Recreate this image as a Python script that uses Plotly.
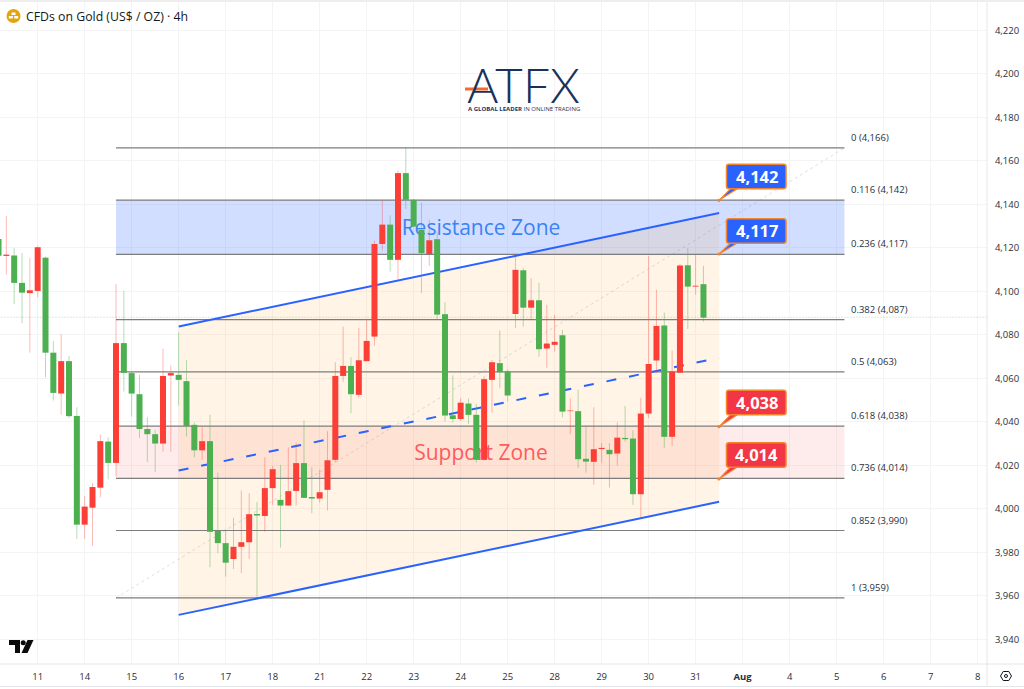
import plotly.graph_objects as go

# ---------- data ----------
opens = [4124.1,4116.3,4116.5,4103.9,4099.2,4100.2,4115.5,4071.8,4053.0,4067.9,4042.7,3992.7,4000.5,4009.7,4030.9,4021.1,
         4076.2,4062.4,4052.7,4036.7,4034.3,4030.0,4061.3,4061.6,4058.7,4038.6,4026.9,4031.1,3989.8,3984.2,3976.9,3982.5,
         3984.6,3997.6,3996.7,4009.5,4004.1,4001.5,4008.2,4021.0,4005.4,4004.7,4008.7,4022.5,4061.1,4065.7,4052.4,4067.9,
         4079.2,4121.8,4130.7,4114.5,4154.4,4142.1,4128.3,4117.2,4124.0,4089.5,4043.0,4041.3,4048.4,4043.2,4022.5,4059.3,
         4067.0,4063.3,4089.6,4109.7,4092.5,4095.9,4073.7,4075.4,4079.8,4044.9,4044.9,4023.0,4021.6,4027.5,4027.1,4025.4,
         4032.6,4032.3,4006.7,4043.8,4068.2,4084.3,4033.1,4062.6,4112.0,4102.2,4103.3]
highs = [4126.0,4134.7,4120.0,4117.6,4115.3,4120.9,4116.0,4077.2,4080.4,4070.3,4046.7,4005.9,4011.8,4034.0,4032.9,4103.4,
         4100.2,4063.0,4061.6,4042.1,4036.3,4073.7,4065.9,4081.2,4068.5,4039.8,4037.5,4043.2,4016.6,3990.6,3995.8,4008.4,
         4007.2,4003.2,4023.7,4019.7,4020.2,4028.3,4030.4,4040.6,4019.1,4017.9,4035.7,4067.4,4083.8,4069.7,4083.2,4086.9,
         4123.3,4141.8,4135.0,4155.6,4166.3,4142.5,4140.8,4132.9,4127.5,4095.0,4061.4,4050.9,4050.7,4048.2,4061.0,4068.5,
         4082.0,4064.2,4116.0,4110.7,4106.0,4104.0,4093.8,4089.2,4082.3,4050.9,4054.7,4037.8,4046.7,4030.2,4030.2,4039.8,
         4047.3,4036.0,4051.1,4116.3,4100.7,4090.2,4072.8,4112.6,4119.9,4117.1,4111.7]
lows = [4112.0,4107.7,4094.1,4085.4,4071.8,4097.3,4060.5,4049.8,4043.3,4041.7,3986.1,3986.1,3983.0,4005.3,4013.6,4014.8,
        4053.9,4042.4,4032.5,4021.4,4016.8,4026.3,4026.3,4047.5,4033.2,4023.7,4022.5,3973.1,3979.6,3968.8,3972.3,3970.4,
        3976.9,3959.6,3989.4,4001.8,3982.1,4001.3,4001.5,4005.0,3998.0,4002.8,3999.2,4021.4,4058.5,4044.0,4051.3,4067.9,
        4075.0,4118.8,4109.1,4105.6,4137.9,4129.5,4099.2,4111.7,4086.9,4040.1,4039.6,4040.4,4039.0,4021.2,4022.2,4044.2,
        4055.5,4049.3,4083.1,4083.8,4086.9,4070.0,4064.9,4072.3,4042.1,4034.3,4018.7,4016.6,4011.0,4021.2,4009.7,4019.9,
        4030.9,4001.8,3995.7,4041.7,4062.4,4027.9,4028.9,4062.4,4082.7,4098.4,4086.1]
closes = [4116.4,4116.9,4103.9,4099.4,4100.5,4120.3,4071.8,4053.3,4067.9,4042.6,3992.7,4001.0,4010.0,4031.1,4021.1,4076.2,
          4062.5,4053.0,4036.7,4034.3,4030.0,4061.1,4062.4,4059.3,4038.1,4026.9,4031.1,3989.4,3984.2,3975.2,3982.5,3984.6,
          3997.5,3996.9,4009.5,4018.2,4001.5,4008.1,4021.0,4005.0,4004.7,4007.6,4022.3,4061.1,4065.7,4052.7,4068.3,4077.2,
          4121.8,4130.7,4114.5,4154.4,4142.1,4129.8,4117.6,4123.5,4089.3,4042.9,4041.3,4048.8,4043.2,4022.5,4059.6,4067.4,
          4062.8,4052.1,4109.9,4092.5,4095.9,4073.4,4076.0,4076.8,4044.7,4045.2,4022.8,4021.7,4027.4,4028.0,4025.1,4032.7,
          4032.0,4006.7,4043.8,4066.6,4084.1,4033.1,4063.1,4111.9,4102.2,4102.6,4087.9]

fib_ratios = ["0", "0.116", "0.236", "0.382", "0.5", "0.618", "0.736", "0.852", "1"]
fib_levels = [4166, 4142, 4117, 4087, 4063, 4038, 4014, 3990, 3959]
fib_start, fib_end = 15, 108

channel_x = [23, 92]
channel_top = [4083.8, 4136.0]
channel_mid = [4017.6, 4069.4]
channel_bot = [3951.2, 4003.2]

last_price = 4088.1

y_ticks = list(range(3940, 4221, 20))
x_tick_pos = [5, 11, 17, 23, 29, 35, 41, 47, 53, 59, 65, 71, 77, 83, 89, 95, 101, 107, 113, 119, 125]
x_tick_txt = ["11", "14", "15", "16", "17", "18", "21", "22", "23", "24", "25", "28", "29", "30", "31",
              "<b>Aug</b>", "4", "5", "6", "7", "8"]

callout_blue = ["4,142", "4,117"]
callout_red = ["4,038", "4,014"]

# ---------- styles ----------
GREEN, RED = "#4CAF50", "#FB3E36"
GREEN_W, RED_W = "rgba(76,175,80,0.42)", "rgba(251,62,54,0.36)"
BLUE = "#2962FF"
GRAY = "#7d7d7d"
FONT = "Open Sans"
W, H = 1024, 689
PX = lambda x: x / W
PY = lambda y: 1 - y / H

fig = go.Figure()

def band(x0, x1, lo, hi, color):
    fig.add_trace(go.Scatter(x=[x0, x1, x1, x0, x0], y=[lo, lo, hi, hi, lo], mode="lines",
                             fill="toself", fillcolor=color, line=dict(width=0), hoverinfo="skip"))

# zones
band(fib_start, fib_end, fib_levels[2], fib_levels[1], "rgba(41,98,255,0.21)")
band(fib_start, fib_end, fib_levels[6], fib_levels[5], "rgba(242,54,69,0.10)")
# channel fill
fig.add_trace(go.Scatter(x=channel_x + channel_x[::-1] + channel_x[:1],
                         y=channel_top + channel_bot[::-1] + channel_top[:1],
                         mode="lines", fill="toself", fillcolor="rgba(255,152,0,0.10)",
                         line=dict(width=0), hoverinfo="skip"))
# price line
fig.add_trace(go.Scatter(x=[0, 127], y=[last_price, last_price], mode="lines",
                         line=dict(color="rgba(76,175,80,0.45)", width=1, dash="1px,2px")))
# fib diagonal
fig.add_trace(go.Scatter(x=[fib_start, fib_end], y=[fib_levels[-1], fib_levels[0]], mode="lines",
                         line=dict(color="rgba(120,120,120,0.24)", width=1, dash="3px,3px")))
# fib lines
for lv in fib_levels:
    fig.add_trace(go.Scatter(x=[fib_start, fib_end], y=[lv, lv], mode="lines",
                             line=dict(color=GRAY, width=1.2)))
# channel lines
fig.add_trace(go.Scatter(x=channel_x, y=channel_top, mode="lines", line=dict(color=BLUE, width=2)))
fig.add_trace(go.Scatter(x=channel_x, y=channel_bot, mode="lines", line=dict(color=BLUE, width=2)))
fig.add_trace(go.Scatter(x=channel_x, y=channel_mid, mode="lines",
                         line=dict(color=BLUE, width=2, dash="10px,13px")))
# zone names
fig.add_trace(go.Scatter(x=[61.6], y=[(fib_levels[1] + fib_levels[2]) / 2 - 1.3], mode="text",
                         text=["Resistance Zone"], textposition="middle center",
                         textfont=dict(family=FONT, size=21, color="#3B82F6")))
fig.add_trace(go.Scatter(x=[61.6], y=[(fib_levels[5] + fib_levels[6]) / 2 - 1.0], mode="text",
                         text=["Support Zone"], textposition="middle center",
                         textfont=dict(family=FONT, size=21, color="#FF5A5F")))

# candles: wicks then bodies, from the arrays
def segs(idx, a, b):
    xs, ys = [], []
    for i in idx:
        xs += [i, i, None]
        ys += [a[i], b[i], None]
    return xs, ys

up = [i for i in range(len(opens)) if closes[i] >= opens[i]]
dn = [i for i in range(len(opens)) if closes[i] < opens[i]]
for idx, col, wcol in ((dn, GREEN, GREEN_W), (up, RED, RED_W)):
    xs, ys = segs(idx, lows, highs)
    fig.add_trace(go.Scatter(x=xs, y=ys, mode="lines", line=dict(color=wcol, width=1)))
for idx, col, wcol in ((dn, GREEN, GREEN_W), (up, RED, RED_W)):
    xs, ys = segs(idx, opens, closes)
    fig.add_trace(go.Scatter(x=xs, y=ys, mode="lines", line=dict(color=col, width=6)))

shapes, annos = [], []

# fib labels
for r, lv in zip(fib_ratios, fib_levels):
    annos.append(dict(x=fib_end, y=lv, xref="x", yref="y", text=f"{r} ({lv:,})", showarrow=False,
                      xanchor="left", yanchor="middle", xshift=5, yshift=10.5,
                      font=dict(family=FONT, size=9.5, color="#2a2e39")))

# callouts
def rrect(x0, y0, x1, y1, r, fill, line):
    p = (f"M{PX(x0+r)},{PY(y0)} L{PX(x1-r)},{PY(y0)} Q{PX(x1)},{PY(y0)} {PX(x1)},{PY(y0+r)} "
         f"L{PX(x1)},{PY(y1-r)} Q{PX(x1)},{PY(y1)} {PX(x1-r)},{PY(y1)} L{PX(x0+r)},{PY(y1)} "
         f"Q{PX(x0)},{PY(y1)} {PX(x0)},{PY(y1-r)} L{PX(x0)},{PY(y0+r)} Q{PX(x0)},{PY(y0)} {PX(x0+r)},{PY(y0)} Z")
    shapes.append(dict(type="path", xref="paper", yref="paper", path=p, fillcolor=fill,
                       line=dict(color=line, width=1.5)))

def callout(txt, top, anchor_y, fill):
    ORANGE = "#F5842B"
    shapes.append(dict(type="path", xref="paper", yref="paper",
                       path=f"M{PX(731)},{PY(top+24)} L{PX(719)},{PY(anchor_y)} L{PX(738)},{PY(top+24)} Z",
                       fillcolor=fill, line=dict(color=ORANGE, width=1.2)))
    rrect(726.5, top, 786, top + 24.5, 2.5, fill, ORANGE)
    shapes.append(dict(type="circle", xref="paper", yref="paper",
                       x0=PX(717.4), x1=PX(720.6), y0=PY(anchor_y + 1.6), y1=PY(anchor_y - 1.6),
                       fillcolor=ORANGE, line=dict(width=0)))
    annos.append(dict(x=PX(756.5), y=PY(top + 12.2), xref="paper", yref="paper", text=f"<b>{txt}</b>",
                      showarrow=False, xanchor="center", yanchor="middle",
                      font=dict(family=FONT, size=16.5, color="white")))

callout(callout_blue[0], 164.3, 200.3, BLUE)
callout(callout_blue[1], 218.7, 254, BLUE)
callout(callout_red[0], 390.3, 426.7, "#F23645")
callout(callout_red[1], 442.7, 479, "#F23645")

# title + icon
shapes.append(dict(type="circle", xref="paper", yref="paper", x0=PX(6.5), x1=PX(20.5), y0=PY(23), y1=PY(9),
                   fillcolor="#E2A50C", line=dict(width=0)))
for x0, x1, y0, y1 in ((11.5, 15.5, 12.5, 15), (8.8, 12.8, 16, 18.5), (14.2, 18.2, 16, 18.5)):
    shapes.append(dict(type="rect", xref="paper", yref="paper", x0=PX(x0), x1=PX(x1), y0=PY(y1), y1=PY(y0),
                       fillcolor="white", line=dict(width=0)))
annos.append(dict(x=PX(24), y=PY(16), xref="paper", yref="paper", text="CFDs on Gold (US$ / OZ) · 4h",
                  showarrow=False, xanchor="left", yanchor="middle",
                  font=dict(family=FONT, size=12.3, color="#131722")))

# ATFX logo
annos.append(dict(x=PX(523.5), y=PY(85), xref="paper", yref="paper", text="ATFX", showarrow=False,
                  xanchor="center", yanchor="middle", font=dict(family="Lato", weight=300, size=48, color="#17335C")))
annos.append(dict(x=PX(523.5), y=PY(109), xref="paper", yref="paper",
                  text="<b>A GLOBAL LEADER</b> IN ONLINE TRADING", showarrow=False,
                  xanchor="center", yanchor="middle", font=dict(family=FONT, size=6, color="#17335C")))
shapes.append(dict(type="rect", xref="paper", yref="paper", x0=PX(465), x1=PX(488), y0=PY(90.5), y1=PY(87.5),
                   fillcolor="#F26B32", line=dict(width=0)))

# TradingView mark
shapes.append(dict(type="path", xref="paper", yref="paper",
                   path=f"M{PX(9)},{PY(640)} L{PX(20)},{PY(640)} L{PX(20)},{PY(653)} L{PX(15)},{PY(653)} "
                        f"L{PX(15)},{PY(645)} L{PX(9)},{PY(645)} Z",
                   fillcolor="#0b0b0b", line=dict(width=0)))
shapes.append(dict(type="circle", xref="paper", yref="paper", x0=PX(20.7), x1=PX(25.7), y0=PY(645.2), y1=PY(640.2),
                   fillcolor="#0b0b0b", line=dict(width=0)))
shapes.append(dict(type="path", xref="paper", yref="paper",
                   path=f"M{PX(27.5)},{PY(640)} L{PX(33.5)},{PY(640)} L{PX(27.5)},{PY(653)} L{PX(21.5)},{PY(653)} Z",
                   fillcolor="#0b0b0b", line=dict(width=0)))

# chrome
AX = "#e4e6eb"
shapes += [
    dict(type="rect", xref="paper", yref="paper", x0=0, x1=1, y0=PY(2), y1=1, fillcolor="#eeeeee", line=dict(width=0)),
    dict(type="line", xref="paper", yref="paper", x0=0, x1=1, y0=PY(664), y1=PY(664), line=dict(color=AX, width=1)),
    dict(type="line", xref="paper", yref="paper", x0=0, x1=1, y0=PY(686.5), y1=PY(686.5), line=dict(color=AX, width=1)),
    dict(type="line", xref="paper", yref="paper", x0=PX(987), x1=PX(987), y0=PY(686), y1=PY(2), line=dict(color=AX, width=1)),
    dict(type="path", xref="paper", yref="paper",
         path=" ".join(("M" if i == 0 else "L") + f"{PX(x)},{PY(y)}" for i, (x, y) in enumerate(
             [(1000.5, 676), (1003.2, 671.5), (1008.8, 671.5), (1011.5, 676), (1008.8, 680.5), (1003.2, 680.5)])) + " Z",
         line=dict(color="#131722", width=1)),
    dict(type="circle", xref="paper", yref="paper", x0=PX(1004.5), x1=PX(1007.5), y0=PY(677.5), y1=PY(674.5),
         line=dict(color="#131722", width=1)),
]

GRID = "#f4f4f5"
fig.update_layout(
    width=W, height=H, margin=dict(l=0, r=0, t=0, b=0), showlegend=False,
    paper_bgcolor="white", plot_bgcolor="white", hovermode=False,
    shapes=shapes, annotations=annos,
    xaxis=dict(domain=[0, 987 / W], range=[0.19, 126.2], tickmode="array", tickvals=x_tick_pos, ticktext=x_tick_txt,
               showgrid=True, gridcolor=GRID, gridwidth=1, zeroline=False, showline=False,
               ticks="outside", ticklen=4, tickcolor="rgba(0,0,0,0)", tickangle=0,
               tickfont=dict(family=FONT, size=9.5, color="#2a2e39"), fixedrange=True),
    yaxis=dict(domain=[PY(664), PY(2)], range=[3928.6, 4233.1], side="right", tickmode="array", tickvals=y_ticks,
               ticktext=[f"{v:,}" for v in y_ticks],
               showgrid=True, gridcolor=GRID, gridwidth=1, zeroline=False, showline=False,
               ticks="outside", ticklen=5, tickcolor="rgba(0,0,0,0)",
               tickfont=dict(family=FONT, size=9.5, color="#2a2e39"), fixedrange=True),
)

fig.write_html("out.html", config=dict(displayModeBar=False),
               post_script="document.body.style.margin='0';document.body.style.overflow='hidden';")
